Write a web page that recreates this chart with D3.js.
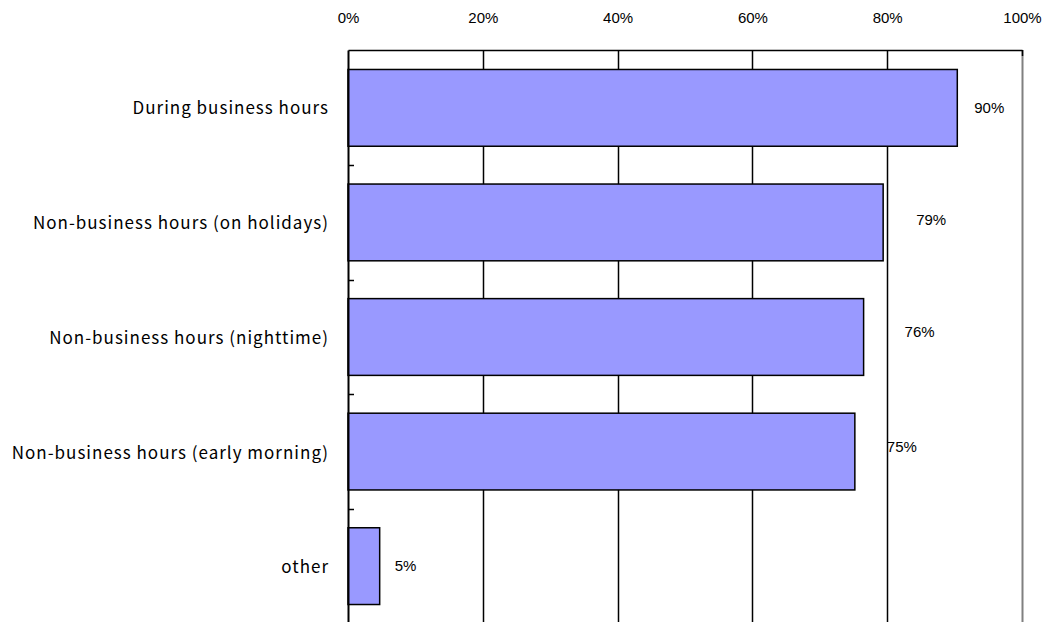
<!DOCTYPE html>
<html><head><meta charset="utf-8">
<script src="https://cdn.jsdelivr.net/npm/d3@7"></script>
<style>body{margin:0;background:#fff}</style>
</head><body>
<svg id="c" width="1045" height="622"></svg>
<script>
const categories = ["During business hours","Non-business hours (on holidays)","Non-business hours (nighttime)","Non-business hours (early morning)","other"];
const values = [90.4, 79.4, 76.5, 75.2, 4.7];
const valueLabels = ["90%","79%","76%","75%","5%"];
const tickValues = [0,20,40,60,80,100];
// per-label layout nudges (px)
const labelNudge = [17, 33, 41, 32, 15];
const labelLift = [0, -3, -5, -5, 0];

(function(){
const svg = d3.select("#c");
const pLeft = 348, pRight = 1022, pTop = 50, pBottom = 624;
const x = d3.scaleLinear().domain([0,100]).range([pLeft,pRight]);
const y = d3.scaleBand().domain(categories).range([pTop,pBottom]).paddingInner(0.33).paddingOuter(0.17);
const yb = d3.scaleBand().domain(categories).range([pTop,pBottom]);

svg.append("g").selectAll("line").data(tickValues.filter(d=>d>0&&d<100)).join("line")
  .attr("x1",d=>Math.round(x(d))+0.5).attr("x2",d=>Math.round(x(d))+0.5)
  .attr("y1",pTop).attr("y2",pBottom).attr("stroke","#000").attr("stroke-width",1.5);
svg.append("line").attr("x1",Math.round(x(100))+0.5).attr("x2",Math.round(x(100))+0.5)
  .attr("y1",pTop).attr("y2",pBottom).attr("stroke","#808080").attr("stroke-width",2);

const xAxis = d3.axisTop(x).tickValues(tickValues).tickFormat(d=>d+"%").tickSize(0).tickPadding(0);
const gx = svg.append("g").attr("transform",`translate(0,${pTop})`).call(xAxis);
gx.select(".domain").attr("stroke","#000").attr("stroke-width",1.5);
gx.selectAll("text").attr("y",-32).attr("dy","0.35em").attr("font-family","Liberation Sans, Arial, sans-serif").attr("font-size",15).attr("fill","#000");
svg.append("line").attr("x1",Math.round(x(100))+0.5).attr("x2",Math.round(x(100))+0.5).attr("y1",pTop).attr("y2",pTop+6).attr("stroke","#000").attr("stroke-width",1.5);

svg.append("g").selectAll("rect").data(values).join("rect")
  .attr("x",x(0)).attr("y",(d,i)=>y(categories[i]))
  .attr("width",d=>x(d)-x(0)).attr("height",y.bandwidth())
  .attr("fill","#9999FF").attr("stroke","#000").attr("stroke-width",1.5);

const yAxis = d3.axisLeft(yb).tickSize(0).tickPadding(19);
const gy = svg.append("g").attr("transform",`translate(${pLeft},0)`).call(yAxis);
gy.select(".domain").attr("stroke","#000").attr("stroke-width",2);
gy.selectAll("text").attr("font-family","'Noto Sans CJK JP', sans-serif").attr("font-size",17)
  .attr("letter-spacing","1px").attr("dy","0.4em").attr("fill","#000");
svg.append("g").selectAll("line").data(categories.slice(1)).join("line")
  .attr("x1",pLeft).attr("x2",pLeft+6)
  .attr("y1",d=>Math.round(yb(d))+0.5).attr("y2",d=>Math.round(yb(d))+0.5)
  .attr("stroke","#000").attr("stroke-width",1.5);

svg.append("g").selectAll("text").data(values).join("text")
  .attr("x",(d,i)=>x(d)+labelNudge[i])
  .attr("y",(d,i)=>y(categories[i])+y.bandwidth()/2+labelLift[i])
  .attr("dy","0.35em")
  .attr("font-family","Liberation Sans, Arial, sans-serif").attr("font-size",15).attr("fill","#000")
  .text((d,i)=>valueLabels[i]);
})();
</script>
</body></html>
